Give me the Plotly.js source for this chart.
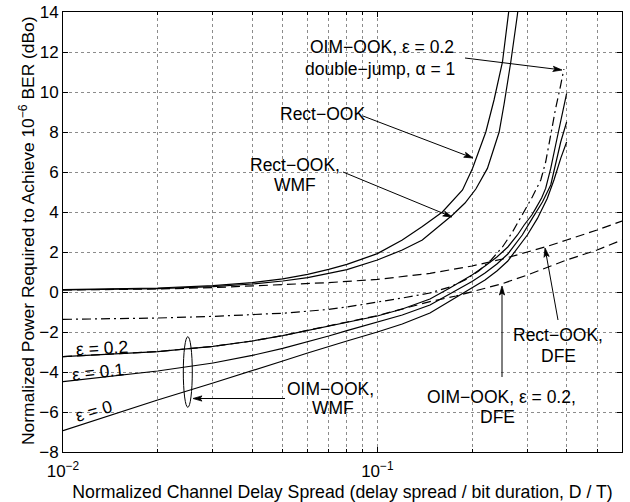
<!DOCTYPE html>
<html>
<head>
<meta charset="utf-8">
<script src="https://cdn.plot.ly/plotly-3.0.1.min.js"></script>
<style>html,body{margin:0;padding:0;background:#fff;}#chart{width:630px;height:502px;}</style>
</head>
<body>
<div id="chart"></div>
<script>
// ---- data ----
const rectX = [0.01,0.02,0.03,0.04,0.05,0.06,0.07,0.08,0.1,0.12,0.139,0.161,0.1866,0.2007,0.2213,0.235,0.25,0.259,0.264];
const rectY = [0.12,0.2,0.32,0.47,0.66,0.88,1.13,1.38,1.92,2.6,3.27,4.0,5.1,6.18,8.0,9.6,11.5,13.4,14.5];

const rectWmfX = [0.01,0.02,0.03,0.04,0.05,0.06,0.07,0.08,0.1,0.12,0.139,0.155,0.1734,0.19,0.2057,0.2239,0.244,0.253,0.2657,0.2788,0.282];
const rectWmfY = [0.1,0.17,0.27,0.4,0.55,0.72,0.93,1.12,1.6,2.1,2.6,3.2,3.85,4.45,5.15,6.18,8.0,9.4,11.5,13.85,14.5];

const rectDfeX = [0.01,0.02,0.03,0.04,0.05,0.07,0.1,0.147,0.2,0.25,0.3,0.35,0.4,0.5,0.6];
const rectDfeY = [0.1,0.15,0.22,0.3,0.36,0.47,0.63,0.93,1.3,1.65,2.0,2.3,2.6,3.1,3.55];

const dblX = [0.01,0.02,0.03,0.04,0.05,0.06,0.07,0.08,0.1,0.12,0.147,0.17,0.19,0.21,0.23,0.25,0.269,0.293,0.311,0.331,0.343,0.356,0.369,0.383,0.392];
const dblY = [-1.37,-1.3,-1.22,-1.15,-1.06,-0.96,-0.87,-0.75,-0.52,-0.3,-0.05,0.25,0.6,1.05,1.6,2.25,3.0,4.0,4.75,5.6,6.5,7.85,9.18,10.35,11.15];

const eps02X = [0.01,0.02,0.03,0.04,0.05,0.06,0.07,0.08,0.1,0.12,0.147,0.17,0.2,0.22,0.24,0.26,0.279,0.293,0.31,0.319,0.333,0.343,0.356,0.369,0.383,0.4];
const eps02Y = [-3.23,-2.98,-2.72,-2.45,-2.18,-1.93,-1.7,-1.5,-1.2,-0.85,-0.35,0.2,0.85,1.3,1.75,2.25,2.85,3.35,3.85,4.18,4.7,5.18,6.18,7.35,8.5,9.93];

const eps01X = [0.01,0.02,0.03,0.04,0.05,0.06,0.07,0.08,0.1,0.12,0.147,0.17,0.2,0.22,0.24,0.26,0.289,0.311,0.335,0.356,0.369,0.383,0.4];
const eps01Y = [-4.48,-3.95,-3.55,-3.17,-2.82,-2.5,-2.2,-1.93,-1.5,-1.15,-0.65,-0.1,0.52,0.95,1.4,1.9,2.85,3.68,4.5,5.35,6.35,7.5,8.5];

const eps0X = [0.01,0.02,0.03,0.04,0.05,0.06,0.07,0.08,0.1,0.12,0.147,0.17,0.2,0.22,0.24,0.26,0.3,0.323,0.347,0.3645,0.383,0.4];
const eps0Y = [-6.93,-5.4,-4.55,-3.95,-3.45,-3.05,-2.72,-2.45,-2.0,-1.6,-1.05,-0.45,0.2,0.6,1.05,1.55,2.85,3.68,4.68,5.6,6.68,7.5];

const oimDfeX = [0.01,0.02,0.03,0.04,0.05,0.06,0.07,0.08,0.1,0.12,0.147,0.178,0.2,0.23,0.25,0.3,0.4,0.5,0.6];
const oimDfeY = [-3.23,-2.98,-2.72,-2.45,-2.18,-1.93,-1.7,-1.5,-1.18,-0.86,-0.48,-0.2,0.0,0.25,0.42,0.85,1.6,2.1,2.6];

const xMajorVals = [0.01,0.1];
const xMajorText = ['10<sup>−2</sup>','10<sup>−1</sup>'];
const xMinorVals = [0.02,0.03,0.04,0.05,0.06,0.07,0.08,0.09,0.2,0.3,0.4,0.5,0.6];
const yTickVals = [-8,-6,-4,-2,0,2,4,6,8,10,12,14];

// ---- drawing ----
const FONT = 'Liberation Sans, Arial, Helvetica, sans-serif';
const L = 63, T = 12, W = 559, H = 440;
function px(x){ return (x - L) / W; }
function py(y){ return (T + H - y) / H; }

const solid = {color:'#000', width:1.2, dash:'solid'};
const dashed = {color:'#000', width:1.2, dash:'9px,5px'};
const dashdot = {color:'#000', width:1.2, dash:'9px,4px,2px,4px'};

const traces = [
  {x:rectX, y:rectY, line:solid},
  {x:rectWmfX, y:rectWmfY, line:solid},
  {x:eps02X, y:eps02Y, line:solid},
  {x:eps01X, y:eps01Y, line:solid},
  {x:eps0X, y:eps0Y, line:solid},
  {x:rectDfeX, y:rectDfeY, line:dashed},
  {x:oimDfeX, y:oimDfeY, line:dashed},
  {x:dblX, y:dblY, line:dashdot}
].map(t => Object.assign({type:'scatter', mode:'lines', hoverinfo:'skip', showlegend:false}, t));

function label(text, cx, cy, angle, size){
  return {xref:'paper', yref:'paper', x:px(cx), y:py(cy), text:text, showarrow:false,
          xanchor:'center', yanchor:'middle', textangle:angle||0,
          font:{family:FONT, size:size||17.5, color:'#000'}};
}

const shapes = [
  {type:'circle', xref:'paper', yref:'paper', x0:px(183.3), x1:px(192.3), y0:py(407.3), y1:py(336.7),
   line:{color:'#000', width:1}}
];
function arrow(tx, ty, hx, hy){
  const dx = hx - tx, dy = hy - ty, len = Math.hypot(dx, dy);
  const ux = dx/len, uy = dy/len, nx = -uy, ny = ux;
  const hl = 9, hw = 2.6;
  const bx = hx - ux*hl, by = hy - uy*hl;
  shapes.push({type:'line', xref:'paper', yref:'paper', x0:px(tx), y0:py(ty), x1:px(bx+ux*3), y1:py(by+uy*3),
               line:{color:'#000', width:1}});
  const p = [[hx,hy],[bx+nx*hw, by+ny*hw],[bx+ux*2, by+uy*2],[bx-nx*hw, by-ny*hw]];
  const path = 'M' + p.map(q => px(q[0]) + ',' + py(q[1])).join(' L') + ' Z';
  shapes.push({type:'path', xref:'paper', yref:'paper', path:path, fillcolor:'#000', line:{color:'#000', width:0.8}});
}
arrow(465, 58, 562, 70);
arrow(363, 116, 473, 158);
arrow(343, 172, 452, 217);
arrow(285, 398.5, 193, 398.5);
arrow(558, 320, 545, 248);
arrow(502, 377, 502, 286);

const annotations = [
  label('Normalized Power Required to Achieve 10<sup>−6</sup> BER (dBo)', 27, 231, -90, 17.4),
  label('OIM−OOK, ε = 0.2', 382, 47),
  label('double−jump, α = 1', 380, 69),
  label('Rect−OOK', 322, 114),
  label('Rect−OOK,', 295, 165),
  label('WMF', 295, 185),
  label('ε = 0.2', 102, 348, -3),
  label('ε = 0.1', 98, 372, -6),
  label('ε = 0', 94, 411, -16),
  label('OIM−OOK,', 330, 389),
  label('WMF', 333, 408),
  label('Rect−OOK,', 558, 335),
  label('DFE', 558, 356),
  label('OIM−OOK, ε = 0.2,', 501, 397),
  label('DFE', 497, 417)
];

const gridColor = 'rgba(0,0,0,0.45)';

const layout = {
  width:630, height:502,
  margin:{l:L, r:630-L-W, t:T, b:502-T-H},
  paper_bgcolor:'#fff', plot_bgcolor:'#fff',
  font:{family:FONT, size:17, color:'#000'},
  showlegend:false,
  xaxis:{
    type:'log', range:[-2, Math.log10(0.6)], tickmode:'array', tickvals:xMajorVals, ticktext:xMajorText,
    ticks:'inside', ticklen:5, tickcolor:'#000', showline:true, linecolor:'#000', linewidth:1, mirror:'ticks',
    zeroline:false, tickfont:{family:FONT, size:17}, ticklabelstandoff:4,
    showgrid:true, gridcolor:gridColor, gridwidth:1, griddash:'dot',
    minor:{tickmode:'array', tickvals:xMinorVals, ticks:'inside', ticklen:3, tickcolor:'#000',
           showgrid:true, gridcolor:gridColor, gridwidth:1, griddash:'dot'},
    title:{text:'Normalized Channel Delay Spread (delay spread / bit duration, D / T)', font:{family:FONT, size:17.7}, standoff:6}
  },
  yaxis:{
    range:[-8, 14], tickmode:'array', tickvals:yTickVals,
    ticks:'inside', ticklen:5, tickcolor:'#000', showline:true, linecolor:'#000', linewidth:1, mirror:'ticks',
    zeroline:false, tickfont:{family:FONT, size:17},
    showgrid:true, gridcolor:gridColor, gridwidth:1, griddash:'dot'
  },
  annotations:annotations,
  shapes:shapes
};

Plotly.newPlot('chart', traces, layout, {staticPlot:true, displayModeBar:false});
</script>
</body>
</html>
